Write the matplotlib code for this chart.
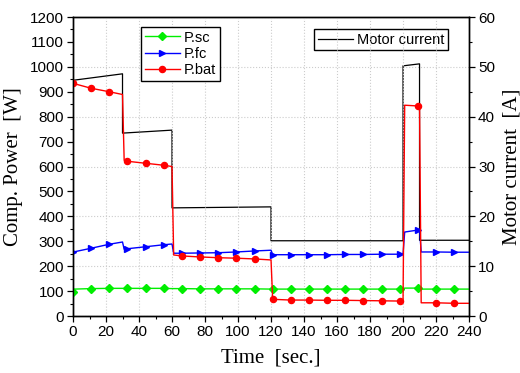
import matplotlib

matplotlib.use("Agg")
import matplotlib.pyplot as plt
from matplotlib.ticker import MultipleLocator

# time base for the power curves (sec.)
t_pow = [0, 1, 11, 22, 30, 31, 33, 44, 55, 60, 61, 66, 77, 88, 99, 110, 120,
         121, 132, 143, 154, 165, 176, 187, 198, 200, 201, 209, 210, 211,
         220, 231, 240]
p_sc = [97, 108, 110, 111, 111, 110, 111, 111, 111, 110, 110, 110, 109, 109,
        109, 109, 108, 108, 108, 108, 108, 108, 108, 108, 108, 108, 112, 112,
        112, 108, 108, 108, 108]
p_fc = [256, 258, 272, 288, 297, 268, 270, 278, 286, 289, 252, 252, 253, 254,
        257, 261, 264, 246, 246, 246, 246, 247, 247, 248, 248, 248, 337, 345,
        349, 257, 257, 256, 256]
p_bat = [935, 932, 914, 900, 889, 625, 621, 613, 605, 600, 245, 241, 237, 234,
         232, 229, 225, 67, 64, 64, 63, 63, 62, 61, 60, 60, 846, 843, 841, 53,
         53, 51, 51]

# motor current (A)
t_cur = [0, 30, 30, 60, 60, 120, 120, 200, 200, 210, 210, 240]
i_motor = [47.3, 48.6, 36.7, 37.3, 21.7, 21.9, 15.1, 15.1, 50.2, 50.6, 15.2, 15.2]

# markers every 11 s
mark_idx = [i for i, t in enumerate(t_pow) if t % 11 == 0]

plt.rcParams["font.family"] = ["Liberation Sans", "DejaVu Sans"]
plt.rcParams["xtick.direction"] = "out"
plt.rcParams["ytick.direction"] = "out"

fig = plt.figure(figsize=(5.2, 3.73), dpi=100)
ax = fig.add_axes([0.1404, 0.1528, 0.7616, 0.8016])
ax2 = ax.twinx()
# power axis on top, current axis (with y grid) underneath
ax.set_zorder(ax2.get_zorder() + 1)
ax.patch.set_visible(False)

ax.plot(t_pow, p_sc, color="#00ee00", lw=1.0, marker="D", ms=3.6,
        markevery=mark_idx, label="P.sc")
ax.plot(t_pow, p_fc, color="#0000ff", lw=1.0, marker=">", ms=5,
        markevery=mark_idx, label="P.fc")
ax.plot(t_pow, p_bat, color="#ff0000", lw=1.0, marker="o", ms=4.4,
        markevery=mark_idx, label="P.bat")

ax2.plot(t_cur, i_motor, color="black", lw=0.9, label="Motor current")

ax.set_xlim(0, 240)
ax.set_ylim(0, 1200)
ax2.set_ylim(0, 60)

ax.xaxis.set_major_locator(MultipleLocator(20))
ax.xaxis.set_minor_locator(MultipleLocator(10))
ax.yaxis.set_major_locator(MultipleLocator(100))
ax.yaxis.set_minor_locator(MultipleLocator(50))
ax2.yaxis.set_major_locator(MultipleLocator(10))
ax2.yaxis.set_minor_locator(MultipleLocator(5))

for a in (ax, ax2):
    a.tick_params(which="major", length=4.5, width=0.9, labelsize=11, pad=2)
    a.tick_params(which="minor", length=2.5, width=0.8)
    for s in a.spines.values():
        s.set_linewidth(1.0)

ax.grid(True, axis="x", which="major", color="#cccccc", ls=":", lw=0.8)
ax2.grid(True, axis="y", which="major", color="#cccccc", ls=":", lw=0.8)

serif = {"family": "Liberation Serif", "size": 15}
ax.set_xlabel("Time  [sec.]", fontdict=serif, labelpad=7)
ax.set_ylabel("Comp. Power  [W]", fontdict=serif, labelpad=5)
ax2.set_ylabel("Motor current  [A]", fontdict=serif, labelpad=5)

leg_style = dict(fontsize=10.5, fancybox=False, edgecolor="black",
                 framealpha=1, borderaxespad=0, borderpad=0.25,
                 labelspacing=0.15, handlelength=2.4, handletextpad=0.3)
leg1 = ax.legend(loc="upper left", bbox_to_anchor=(0.172, 0.967), **leg_style)
leg1.get_frame().set_linewidth(1.0)
leg2 = ax2.legend(loc="upper left", bbox_to_anchor=(0.609, 0.960), **leg_style)
leg2.get_frame().set_linewidth(1.0)

fig.savefig("out.png", dpi=100)
